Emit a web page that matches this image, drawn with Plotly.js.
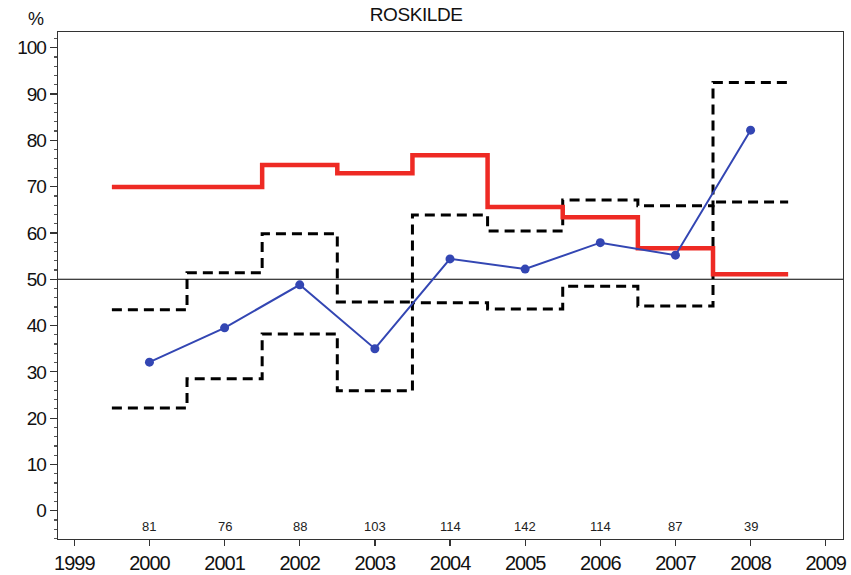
<!DOCTYPE html>
<html>
<head>
<meta charset="utf-8">
<script src="https://cdn.plot.ly/plotly-3.0.1.min.js"></script>
<style>
html,body{margin:0;padding:0;background:#fff;}
#chart{width:851px;height:575px;}
#chart .xtick text{letter-spacing:-1px;}
#chart .ytick text{letter-spacing:-1px;}
#chart .gtitle{letter-spacing:-0.4px;}
</style>
</head>
<body>
<div id="chart"></div>
<script>
const years = [2000, 2001, 2002, 2003, 2004, 2005, 2006, 2007, 2008];
const observed = [32.1, 39.5, 48.8, 35.0, 54.4, 52.2, 57.9, 55.2, 82.2];
const expected = [69.9, 69.9, 74.7, 72.9, 76.8, 65.6, 63.4, 56.7, 51.1];
const upperLimit = [43.4, 51.4, 59.8, 45.1, 63.9, 60.4, 67.1, 65.9, 92.5];
const lowerLimit = [22.2, 28.5, 38.2, 25.9, 44.9, 43.6, 48.5, 44.2, 66.7];
const counts = [81, 76, 88, 103, 114, 142, 114, 87, 39];
const xTicks = [1999, 2000, 2001, 2002, 2003, 2004, 2005, 2006, 2007, 2008, 2009];
const yTicks = [0, 10, 20, 30, 40, 50, 60, 70, 80, 90, 100];
const refLevel = 50;
const titleText = 'ROSKILDE';
const yUnit = '%';

const FONT = "'Liberation Sans', Arial, Helvetica, sans-serif";

function steps(vals) {
  const xs = [], ys = [];
  years.forEach((yr, i) => { xs.push(yr - 0.5, yr + 0.5); ys.push(vals[i], vals[i]); });
  return {x: xs, y: ys};
}

const up = steps(upperLimit), lo = steps(lowerLimit), ex = steps(expected);
const traces = [
  {x: [1998.6, 2009.4], y: [refLevel, refLevel], mode: 'lines', line: {color: '#000', width: 1.2}, hoverinfo: 'skip'},
  {x: up.x, y: up.y, mode: 'lines', line: {color: '#000', width: 3, dash: '10px,6px'}},
  {x: lo.x, y: lo.y, mode: 'lines', line: {color: '#000', width: 3, dash: '10px,6px'}},
  {x: ex.x, y: ex.y, mode: 'lines', line: {color: '#ee2a24', width: 4.5}},
  {x: years, y: observed, mode: 'lines+markers', line: {color: '#3346b3', width: 2}, marker: {color: '#3346b3', size: 9}}
];

const annotations = years.map((yr, i) => ({
  x: yr, y: -3.3, xref: 'x', yref: 'y', text: String(counts[i]), showarrow: false,
  font: {family: FONT, size: 13, color: '#222'}
}));
annotations.push({
  x: -0.028, y: 1.0, xref: 'paper', yref: 'paper', xanchor: 'center', yanchor: 'bottom', yshift: 1,
  text: yUnit, showarrow: false, font: {family: FONT, size: 18, color: '#111'}
});

const layout = {
  width: 851, height: 575,
  margin: {l: 58, r: 8, t: 32, b: 36},
  paper_bgcolor: '#fff', plot_bgcolor: '#fff',
  showlegend: false,
  font: {family: FONT, size: 19, color: '#111'},
  title: {text: titleText, x: 0.489, xanchor: 'center', y: 0.987, yanchor: 'top', yref: 'container',
    font: {family: FONT, size: 19, color: '#111'}},
  xaxis: {range: [1998.783, 2009.23], tickvals: xTicks, ticktext: xTicks.map(String),
    showgrid: false, zeroline: false, showline: true, linecolor: '#333', linewidth: 1.3, mirror: true,
    ticks: 'outside', ticklen: 6, tickwidth: 1.3, tickcolor: '#333',
    tickfont: {family: FONT, size: 20, color: '#111'}},
  yaxis: {range: [-6.1, 103.4], tickvals: yTicks, ticktext: yTicks.map(String),
    showgrid: false, zeroline: false, showline: true, linecolor: '#333', linewidth: 1.3, mirror: true,
    ticks: 'outside', ticklen: 7, tickwidth: 1.2, tickcolor: '#333',
    tickfont: {family: FONT, size: 19, color: '#111'},
    minor: {dtick: 2, tick0: 0, ticks: 'outside', ticklen: 3, tickcolor: '#555', showgrid: false}},
  annotations: annotations
};

Plotly.newPlot('chart', traces, layout, {staticPlot: true, displayModeBar: false});
</script>
</body>
</html>
